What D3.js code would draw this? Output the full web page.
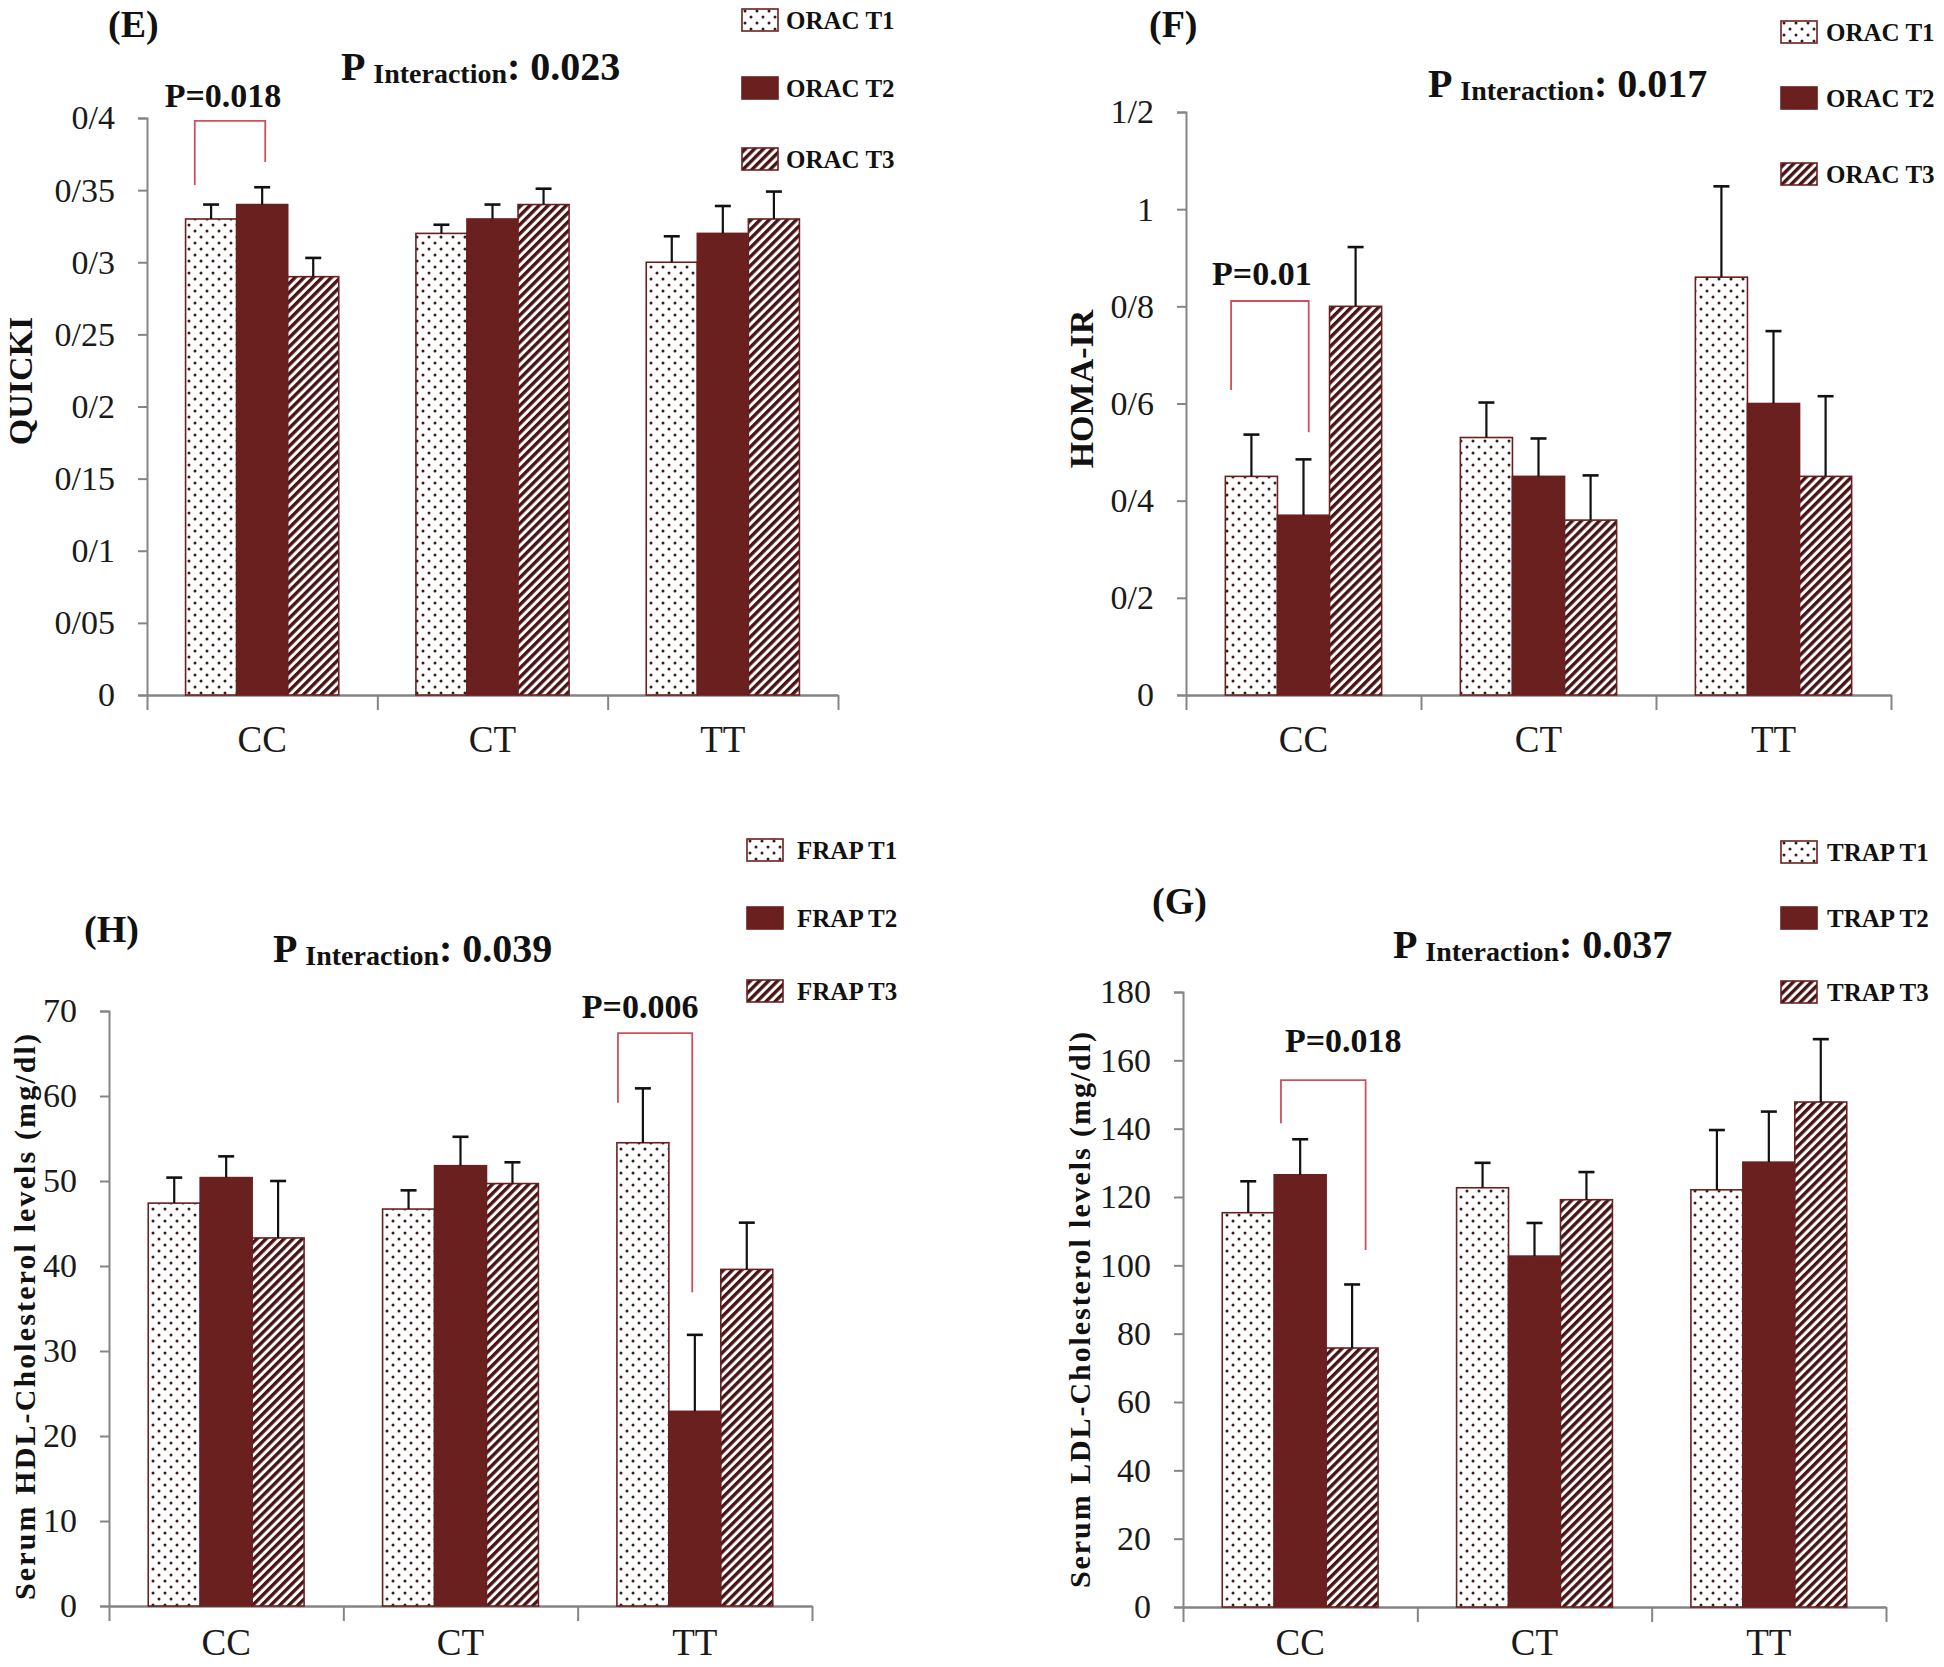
<!DOCTYPE html>
<html>
<head>
<meta charset="utf-8">
<script src="https://cdn.jsdelivr.net/npm/d3@7/dist/d3.min.js"></script>
<style>
  html, body { margin: 0; padding: 0; background: #ffffff; }
  svg { display: block; }
  text { font-family: "Liberation Serif", "Times New Roman", serif; }
</style>
</head>
<body>
<svg id="chart" width="1944" height="1667"></svg>
<script>
// ---------------- DATA ----------------
const categories = ["CC", "CT", "TT"];
const oracSeries = ["ORAC T1", "ORAC T2", "ORAC T3"];
const frapSeries = ["FRAP T1", "FRAP T2", "FRAP T3"];
const trapSeries = ["TRAP T1", "TRAP T2", "TRAP T3"];

// (E) QUICKI — per category: [T1, T2, T3]
const quickiMean = [[0.33, 0.34, 0.29], [0.32, 0.33, 0.34], [0.30, 0.32, 0.33]];
const quickiErr  = [[0.010, 0.012, 0.013], [0.006, 0.010, 0.011], [0.018, 0.019, 0.019]];
const quickiTicks = [0, 0.05, 0.1, 0.15, 0.2, 0.25, 0.3, 0.35, 0.4];
const quickiTickLabels = ["0", "0/05", "0/1", "0/15", "0/2", "0/25", "0/3", "0/35", "0/4"];

// (F) HOMA-IR
const homaMean = [[0.45, 0.37, 0.80], [0.53, 0.45, 0.36], [0.86, 0.60, 0.45]];
const homaErr  = [[0.086, 0.115, 0.122], [0.072, 0.078, 0.092], [0.187, 0.149, 0.165]];
const homaTicks = [0, 0.2, 0.4, 0.6, 0.8, 1, 1.2];
const homaTickLabels = ["0", "0/2", "0/4", "0/6", "0/8", "1", "1/2"];

// (H) Serum HDL-Cholesterol
const hdlMean = [[47.4, 50.4, 43.3], [46.7, 51.8, 49.7], [54.5, 22.9, 39.6]];
const hdlErr  = [[3.0, 2.5, 6.7], [2.2, 3.4, 2.5], [6.4, 9.0, 5.5]];
const hdlTicks = [0, 10, 20, 30, 40, 50, 60, 70];
const hdlTickLabels = ["0", "10", "20", "30", "40", "50", "60", "70"];

// (G) Serum LDL-Cholesterol
const ldlMean = [[115.4, 126.5, 75.8], [122.7, 102.7, 119.2], [122.1, 130.2, 147.8]];
const ldlErr  = [[9.2, 10.4, 18.6], [7.3, 9.7, 8.1], [17.5, 14.8, 18.4]];
const ldlTicks = [0, 20, 40, 60, 80, 100, 120, 140, 160, 180];
const ldlTickLabels = ["0", "20", "40", "60", "80", "100", "120", "140", "160", "180"];

// Significance annotations (values in data units)
const quickiSig = { label: "P=0.018", cat: "CC", a: 0, b: 1, leftBottom: 0.3536, top: 0.398, rightBottom: 0.3695, labelY: 0.4076 };
const homaSig   = { label: "P=0.01",  cat: "CC", a: 0, b: 1, leftBottom: 0.628, top: 0.811, rightBottom: 0.541, labelY: 0.844 };
const hdlSig    = { label: "P=0.006", cat: "TT", a: 0, b: 1, leftBottom: 59.2, top: 67.4, rightBottom: 36.9, labelY: 69.2 };
const ldlSig    = { label: "P=0.018", cat: "CC", a: 1, b: 2, leftBottom: 141.6, top: 154.2, rightBottom: 104.5, labelY: 162.4 };

// ---------------- LAYOUT ----------------
const panels = [
  { tag: "(E)", tagX: 108, tagY: 37, pInt: "0.023", pX: 341, pY: 80,
    yTitle: "QUICKI", yTitleX: 20, yTitleY: 381, yTitleLen: null,
    mean: quickiMean, err: quickiErr, ticks: quickiTicks, tickLabels: quickiTickLabels, max: 0.4,
    series: oracSeries, sig: quickiSig, legFracA: 0.18, legFracB: 0.56, sigDx: -7,
    x0: 147, x1: 838, yZero: 695, yTopPx: 118, catDy: 57,
    legX: 742, legY: [20, 88, 159], legTextX: 786 },
  { tag: "(F)", tagX: 1149, tagY: 37, pInt: "0.017", pX: 1428, pY: 97,
    yTitle: "HOMA-IR", yTitleX: 1081, yTitleY: 389, yTitleLen: null,
    mean: homaMean, err: homaErr, ticks: homaTicks, tickLabels: homaTickLabels, max: 1.2,
    series: oracSeries, sig: homaSig, legFracA: 0.11, legFracB: 0.6, sigDx: -8,
    x0: 1186, x1: 1891, yZero: 695, yTopPx: 112, catDy: 57,
    legX: 1781, legY: [32, 98, 174], legTextX: 1826 },
  { tag: "(H)", tagX: 84, tagY: 942, pInt: "0.039", pX: 273, pY: 962,
    yTitle: "Serum HDL-Cholesterol levels (mg/dl)", yTitleX: 24, yTitleY: 1317, yTitleLen: 566,
    mean: hdlMean, err: hdlErr, ticks: hdlTicks, tickLabels: hdlTickLabels, max: 70,
    series: frapSeries, sig: hdlSig, legFracA: 0.02, legFracB: 0.45, sigDx: -15,
    x0: 109, x1: 812, yZero: 1606, yTopPx: 1011, catDy: 49,
    legX: 747, legY: [850, 918, 991], legTextX: 797 },
  { tag: "(G)", tagX: 1152, tagY: 914, pInt: "0.037", pX: 1393, pY: 958,
    yTitle: "Serum LDL-Cholesterol levels (mg/dl)", yTitleX: 1079, yTitleY: 1310, yTitleLen: 556,
    mean: ldlMean, err: ldlErr, ticks: ldlTicks, tickLabels: ldlTickLabels, max: 180,
    series: trapSeries, sig: ldlSig, legFracA: 0.13, legFracB: 0.76, sigDx: 20,
    x0: 1183, x1: 1886, yZero: 1607, yTopPx: 992, catDy: 48,
    legX: 1781, legY: [852, 918, 992], legTextX: 1827 }
];

const DARK = "#6b2020";
const AXIS = "#858585";
const SIG = "#d0505a";

const svg = d3.select("#chart");
svg.append("rect").attr("width", 1944).attr("height", 1667).attr("fill", "#fff");

// patterns
const defs = svg.append("defs");
const dots = defs.append("pattern").attr("id", "dots").attr("patternUnits", "userSpaceOnUse")
  .attr("width", 12).attr("height", 12);
dots.append("rect").attr("width", 12).attr("height", 12).attr("fill", "#fff");
dots.append("circle").attr("cx", 3).attr("cy", 3).attr("r", 1.5).attr("fill", "#3d1818");
dots.append("circle").attr("cx", 9).attr("cy", 9).attr("r", 1.5).attr("fill", "#3d1818");

const hatch = defs.append("pattern").attr("id", "hatch").attr("patternUnits", "userSpaceOnUse")
  .attr("width", 6.4).attr("height", 10).attr("patternTransform", "rotate(45)");
hatch.append("rect").attr("width", 6.4).attr("height", 10).attr("fill", "#fff");
hatch.append("rect").attr("width", 3.4).attr("height", 10).attr("fill", "#4a1414");

const fills = ["url(#dots)", DARK, "url(#hatch)"];

panels.forEach(p => {
  const g = svg.append("g");
  const x = d3.scaleBand().domain(categories).range([p.x0, p.x1])
    .paddingInner(0.335).paddingOuter(0.1675);
  const xs = d3.scaleBand().domain(d3.range(3)).range([0, x.bandwidth()]).padding(0);
  const y = d3.scaleLinear().domain([0, p.max]).range([p.yZero, p.yTopPx]);
  const step = x.step();

  // y axis
  const yAxis = d3.axisLeft(y).tickValues(p.ticks)
    .tickFormat((d, i) => p.tickLabels[i]).tickSize(9).tickPadding(23);
  const ya = g.append("g").attr("transform", `translate(${p.x0},0)`).call(yAxis);
  ya.select(".domain").attr("stroke", AXIS).attr("stroke-width", 2);
  ya.selectAll(".tick line").attr("stroke", AXIS).attr("stroke-width", 2);
  ya.selectAll(".tick text").attr("fill", "#1a1a1a").attr("font-size", 34)
    .attr("font-family", "Liberation Serif, serif");

  // x axis (category boundary ticks)
  const boundaries = d3.range(4).map(i => p.x0 + i * step);
  const xAxis = d3.axisBottom(d3.scaleLinear().domain([p.x0, p.x1]).range([p.x0, p.x1]))
    .tickValues(boundaries).tickFormat("").tickSize(15).tickSizeOuter(0);
  const xa = g.append("g").attr("transform", `translate(0,${p.yZero})`).call(xAxis);
  xa.select(".domain").attr("stroke", AXIS).attr("stroke-width", 2.5);
  xa.selectAll(".tick line").attr("stroke", AXIS).attr("stroke-width", 2);

  // category labels
  g.selectAll(".cat").data(categories).join("text")
    .attr("x", c => x(c) + x.bandwidth() / 2)
    .attr("y", p.yZero + p.catDy)
    .attr("text-anchor", "middle").attr("font-size", 37).attr("fill", "#1a1a1a")
    .text(c => c);

  // bars
  const flat = [];
  categories.forEach((c, ci) => p.mean[ci].forEach((v, si) => flat.push({ c, si, v, e: p.err[ci][si] })));
  g.selectAll(".bar").data(flat).join("rect")
    .attr("x", d => x(d.c) + xs(d.si))
    .attr("y", d => y(d.v))
    .attr("width", xs.bandwidth())
    .attr("height", d => y(0) - y(d.v))
    .attr("fill", d => fills[d.si])
    .attr("stroke", DARK).attr("stroke-width", 1.6);

  // error bars
  const eb = g.selectAll(".err").data(flat).join("g");
  eb.append("line")
    .attr("x1", d => x(d.c) + xs(d.si) + xs.bandwidth() / 2)
    .attr("x2", d => x(d.c) + xs(d.si) + xs.bandwidth() / 2)
    .attr("y1", d => y(d.v)).attr("y2", d => y(d.v + d.e))
    .attr("stroke", "#111").attr("stroke-width", 2.2);
  eb.append("line")
    .attr("x1", d => x(d.c) + xs(d.si) + xs.bandwidth() / 2 - 8)
    .attr("x2", d => x(d.c) + xs(d.si) + xs.bandwidth() / 2 + 8)
    .attr("y1", d => y(d.v + d.e)).attr("y2", d => y(d.v + d.e))
    .attr("stroke", "#111").attr("stroke-width", 2.6);

  // significance bracket
  const s = p.sig;
  const lx = x(s.cat) + xs(s.a) + p.legFracA * xs.bandwidth();
  const rx = x(s.cat) + xs(s.b) + p.legFracB * xs.bandwidth();
  g.append("path")
    .attr("d", `M${lx},${y(s.leftBottom)} L${lx},${y(s.top)} L${rx},${y(s.top)} L${rx},${y(s.rightBottom)}`)
    .attr("fill", "none").attr("stroke", SIG).attr("stroke-width", 1.8);
  g.append("text")
    .attr("x", (lx + rx) / 2 + p.sigDx).attr("y", y(s.labelY))
    .attr("text-anchor", "middle").attr("font-size", 34).attr("font-weight", "bold")
    .attr("fill", "#111").text(s.label);

  // panel tag
  g.append("text").attr("x", p.tagX).attr("y", p.tagY)
    .attr("font-size", 38).attr("font-weight", "bold").attr("fill", "#111").text(p.tag);

  // P interaction title
  const t = g.append("text").attr("x", p.pX).attr("y", p.pY)
    .attr("font-weight", "bold").attr("fill", "#111");
  t.append("tspan").attr("font-size", 40).text("P ");
  t.append("tspan").attr("font-size", 28).attr("dy", 3).text("Interaction");
  t.append("tspan").attr("font-size", 40).attr("dy", -3).text(": " + p.pInt);

  // y title
  const yt = g.append("text")
    .attr("transform", `translate(${p.yTitleX},${p.yTitleY}) rotate(-90)`)
    .attr("text-anchor", "middle").attr("dy", "0.35em")
    .attr("font-size", p.yTitleLen ? 30 : 34).attr("font-weight", "bold").attr("fill", "#111")
    .text(p.yTitle);
  if (p.yTitleLen) yt.attr("textLength", p.yTitleLen).attr("lengthAdjust", "spacing");

  // legend
  const lg = g.selectAll(".leg").data(p.series).join("g")
    .attr("transform", (d, i) => `translate(${p.legX},${p.legY[i]})`);
  lg.append("rect").attr("x", 0).attr("y", -11).attr("width", 36).attr("height", 22)
    .attr("fill", (d, i) => fills[i]).attr("stroke", DARK).attr("stroke-width", 1.6);
  lg.append("text").attr("x", p.legTextX - p.legX).attr("y", 0).attr("dy", "0.35em")
    .attr("font-size", 25).attr("font-weight", "bold").attr("fill", "#111").text(d => d);
});
</script>
</body>
</html>
